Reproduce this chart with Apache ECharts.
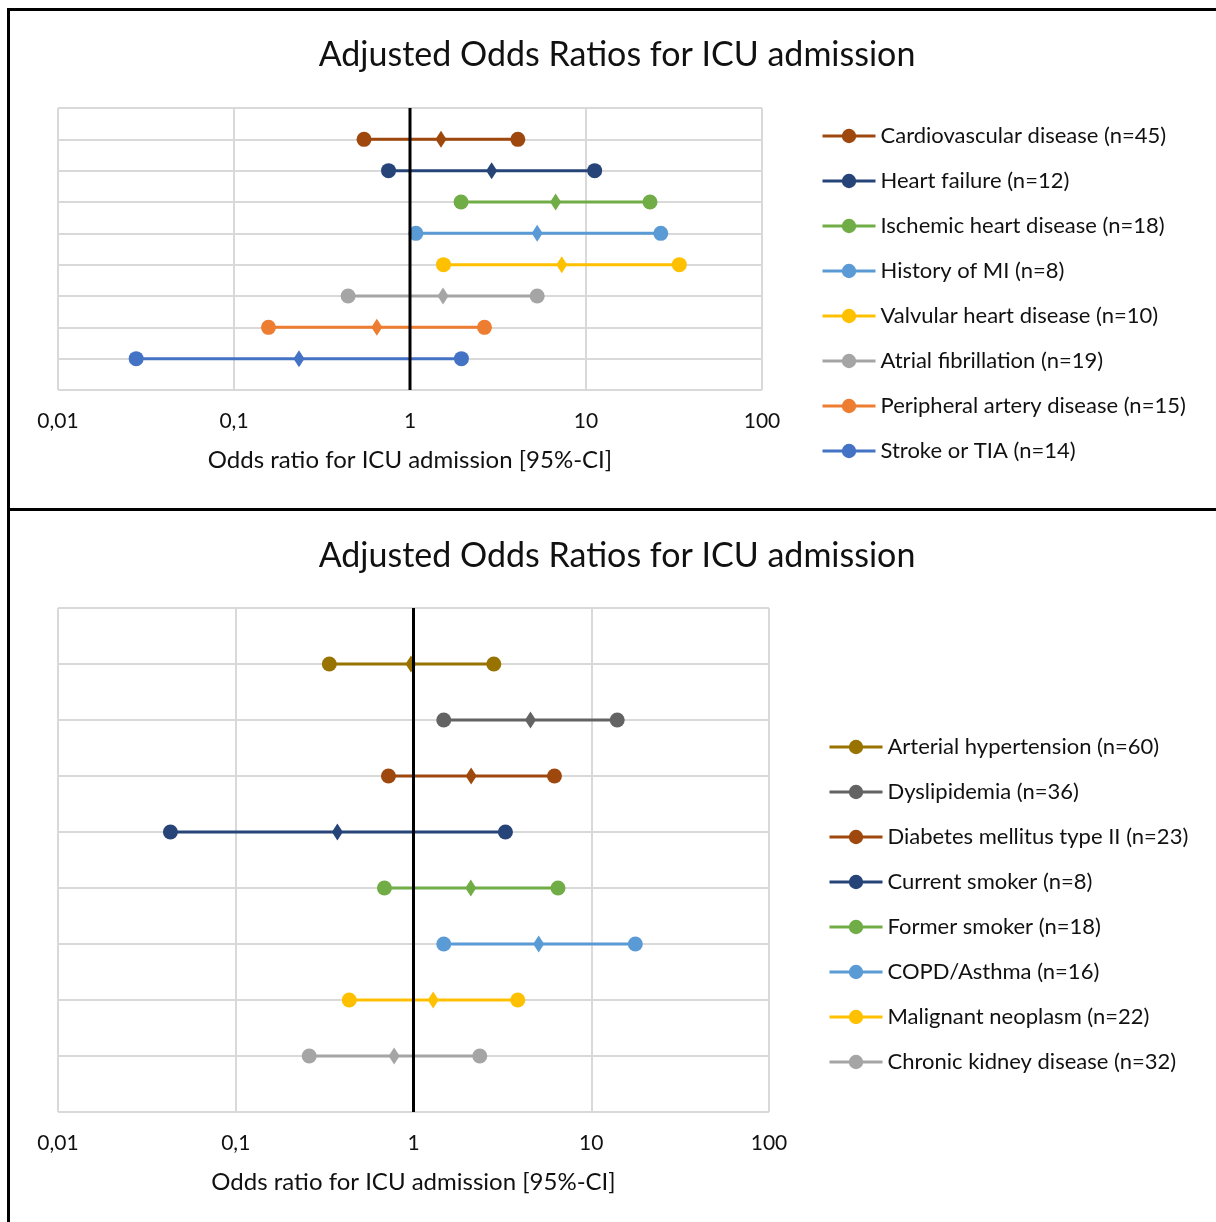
<!DOCTYPE html>
<html>
<head>
<meta charset="utf-8">
<script src="https://cdn.jsdelivr.net/npm/echarts@6/dist/echarts.min.js"></script>
<style>
html,body{margin:0;padding:0;background:#fff;}
#c{width:1216px;height:1222px;}
</style>
</head>
<body>
<div id="c"></div>
<script>
// ---- Data ----
const titleText = 'Adjusted Odds Ratios for ICU admission';
const axisName = 'Odds ratio for ICU admission [95%-CI]';
const xTicks = [0.01, 0.1, 1, 10, 100];
const xTickLabels = ['0,01', '0,1', '1', '10', '100'];

const topCategories = ['Cardiovascular disease (n=45)', 'Heart failure (n=12)', 'Ischemic heart disease (n=18)', 'History of MI (n=8)', 'Valvular heart disease (n=10)', 'Atrial fibrillation (n=19)', 'Peripheral artery disease (n=15)', 'Stroke or TIA (n=14)'];
const topLower = [0.548, 0.755, 1.95, 1.08, 1.55, 0.445, 0.157, 0.0278];
const topOR    = [1.50, 2.91, 6.72, 5.28, 7.28, 1.54, 0.648, 0.234];
const topUpper = [4.10, 11.2, 23.1, 26.6, 33.9, 5.28, 2.65, 1.96];
const topColors = ['#9E480E', '#264478', '#70AD47', '#5B9BD5', '#FFC000', '#A5A5A5', '#ED7D31', '#4472C4'];

const botCategories = ['Arterial hypertension (n=60)', 'Dyslipidemia (n=36)', 'Diabetes mellitus type II (n=23)', 'Current smoker (n=8)', 'Former smoker (n=18)', 'COPD/Asthma (n=16)', 'Malignant neoplasm (n=22)', 'Chronic kidney disease (n=32)'];
const botLower = [0.336, 1.48, 0.723, 0.0429, 0.686, 1.48, 0.435, 0.259];
const botOR    = [0.968, 4.55, 2.11, 0.373, 2.10, 5.06, 1.29, 0.778];
const botUpper = [2.83, 14.0, 6.21, 3.29, 6.50, 17.7, 3.86, 2.36];
const botColors = ['#997300', '#636363', '#9E480E', '#264478', '#70AD47', '#5B9BD5', '#FFC000', '#A5A5A5'];

// ---- Chart ----
const FONT = 'Lato';
const TXT = '#111';
const chart = echarts.init(document.getElementById('c'), null, {renderer: 'canvas'});

function fmt(v) {
  const n = Number(Number(v).toPrecision(3));
  const i = xTicks.indexOf(n);
  return i >= 0 ? xTickLabels[i] : String(n).replace('.', ',');
}

function makeSeries(cats, lo, mid, hi, colors, idx) {
  const n = cats.length;
  const out = cats.map((name, i) => {
    const y = n - i;
    return {
      name: name,
      type: 'line',
      xAxisIndex: idx, yAxisIndex: idx,
      symbol: 'circle',
      symbolSize: 15,
      color: colors[i],
      lineStyle: {width: 3, color: colors[i]},
      itemStyle: {color: colors[i]},
      data: [
        [lo[i], y],
        {value: [mid[i], y], symbol: 'diamond', symbolSize: [11, 17]},
        [hi[i], y]
      ],
      z: 3,
      animation: false
    };
  });
  out.push({
    name: 'ref' + idx,
    type: 'line',
    xAxisIndex: idx, yAxisIndex: idx,
    symbol: 'none',
    silent: true,
    lineStyle: {width: 3, color: '#000'},
    data: [[1, 0], [1, n + 1]],
    z: 5,
    animation: false
  });
  return out;
}

function xAxis(idx) {
  return {
    type: 'log', logBase: 10, min: 0.01, max: 100,
    gridIndex: idx,
    name: axisName, nameLocation: 'middle', nameGap: 58,
    nameTextStyle: {fontFamily: FONT, fontSize: 24, color: TXT},
    axisLine: {show: false}, axisTick: {show: false},
    axisLabel: {fontFamily: FONT, fontSize: 21, color: TXT, margin: 21, formatter: fmt, showMinLabel: true, showMaxLabel: true},
    splitLine: {show: true, lineStyle: {color: '#d9d9d9', width: 2}},
    minorTick: {show: false}, minorSplitLine: {show: false}
  };
}
function yAxis(idx) {
  return {
    type: 'value', min: 0, max: 9, interval: 1, gridIndex: idx,
    axisLine: {show: false}, axisTick: {show: false}, axisLabel: {show: false},
    splitLine: {show: true, lineStyle: {color: '#d9d9d9', width: 2}}
  };
}

function legend(cats, left, top) {
  return {
    data: cats, orient: 'vertical', left: left, top: top, padding: 0,
    itemWidth: 53, itemHeight: 18, itemGap: 23,
    lineStyle: {width: 3},
    textStyle: {fontFamily: FONT, fontSize: 22, color: TXT, lineHeight: 22},
    selectedMode: false
  };
}

const option = {
  backgroundColor: '#fff',
  animation: false,
  title: [
    {text: titleText, left: 612, textAlign: 'center', top: 33, textStyle: {fontFamily: FONT, fontSize: 34, fontWeight: 'normal', color: TXT}},
    {text: titleText, left: 612, textAlign: 'center', top: 534, textStyle: {fontFamily: FONT, fontSize: 34, fontWeight: 'normal', color: TXT}}
  ],
  grid: [
    {left: 58, top: 108, width: 704, height: 282, containLabel: false},
    {left: 58, top: 608, width: 711, height: 504, containLabel: false}
  ],
  xAxis: [xAxis(0), xAxis(1)],
  yAxis: [yAxis(0), yAxis(1)],
  legend: [legend(topCategories, 821, 125), legend(botCategories, 828, 736)],
  graphic: [
    {type: 'rect', shape: {x: 7, y: 8, width: 3, height: 1214}, style: {fill: '#000'}, silent: true},
    {type: 'rect', shape: {x: 7, y: 8, width: 1209, height: 3}, style: {fill: '#000'}, silent: true},
    {type: 'rect', shape: {x: 7, y: 508, width: 1209, height: 3}, style: {fill: '#000'}, silent: true}
  ],
  series: makeSeries(topCategories, topLower, topOR, topUpper, topColors, 0)
    .concat(makeSeries(botCategories, botLower, botOR, botUpper, botColors, 1))
};
chart.setOption(option);
</script>
</body>
</html>
